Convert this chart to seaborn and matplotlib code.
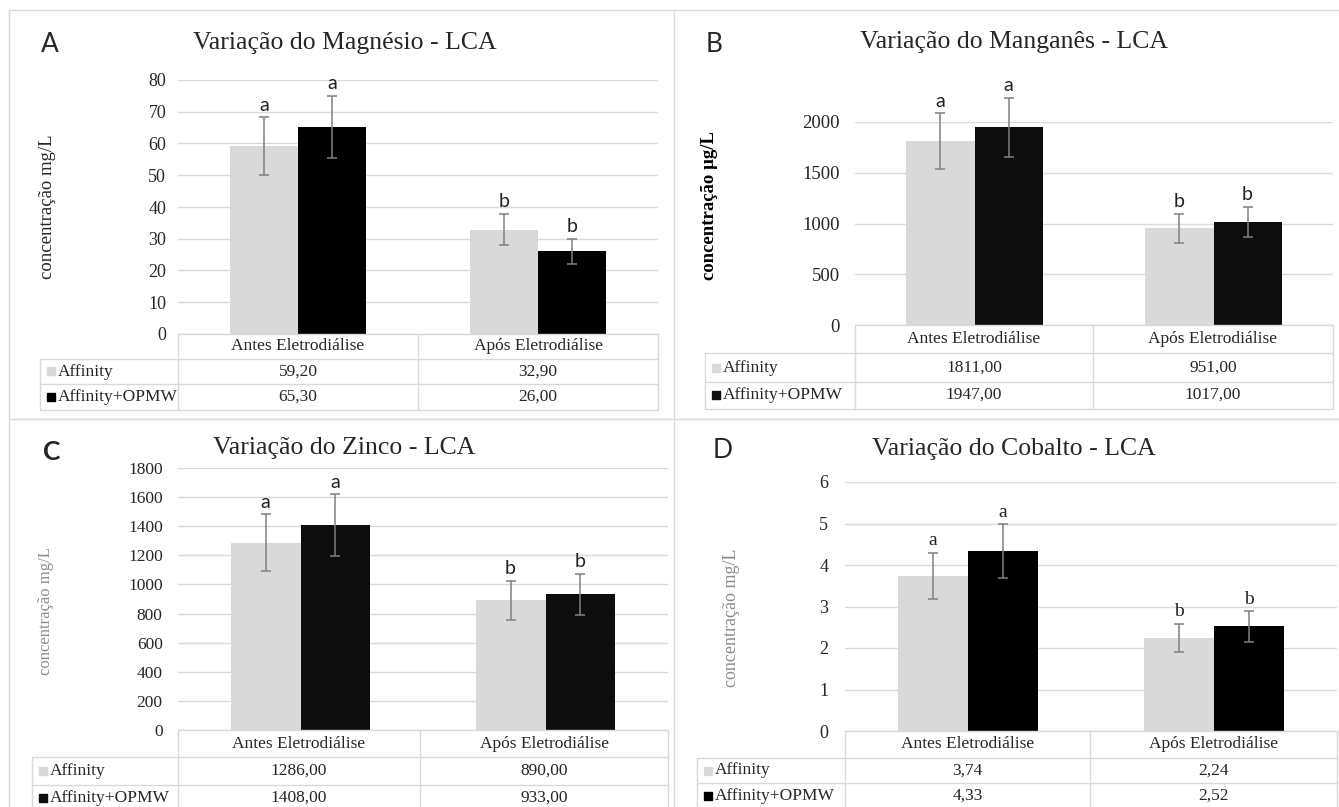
import pandas as pd
import matplotlib.pyplot as plt
import seaborn as sns
from matplotlib.lines import Line2D
from matplotlib.patches import Rectangle

# Dados
momentos = ["Antes Eletrodiálise", "Após Eletrodiálise"]
grupos = ["Affinity", "Affinity+OPMW"]

mg_affinity = [59.20, 32.90]
mg_opmw = [65.30, 26.00]
mg_err_affinity = [9.0, 5.0]
mg_err_opmw = [9.8, 4.0]

mn_affinity = [1811.00, 951.00]
mn_opmw = [1947.00, 1017.00]
mn_err_affinity = [275, 143]
mn_err_opmw = [290, 150]

zn_affinity = [1286.00, 890.00]
zn_opmw = [1408.00, 933.00]
zn_err_affinity = [195, 135]
zn_err_opmw = [213, 140]

co_affinity = [3.74, 2.24]
co_opmw = [4.33, 2.52]
co_err_affinity = [0.56, 0.34]
co_err_opmw = [0.65, 0.37]

letras_affinity = ["a", "b"]
letras_opmw = ["a", "b"]

W, H = 1339, 807
CINZA = "#d9d9d9"


def fx(x):
    return x / W


def fy(y):
    return 1 - y / H


def linha(fig, x0, y0, x1, y1, cor=CINZA, lw=1.0):
    fig.add_artist(Line2D([fx(x0), fx(x1)], [fy(y0), fy(y1)], color=cor, lw=lw))


def painel(fig, cfg):
    # eixo do gráfico em coordenadas de pixel
    left, right = cfg["c0"], cfg["c2"]
    top, bottom = cfg["ytop_px"], cfg["r0"]
    ax = fig.add_axes([fx(left), fy(bottom), fx(right) - fx(left), fy(top) - fy(bottom)])

    df = pd.DataFrame({
        "momento": momentos * 2,
        "grupo": [grupos[0]] * 2 + [grupos[1]] * 2,
        "valor": list(cfg["aff"]) + list(cfg["opmw"]),
    })
    sns.barplot(data=df, x="momento", y="valor", hue="grupo", order=momentos,
                hue_order=grupos, palette=[CINZA, cfg["escuro"]], width=0.57,
                saturation=1, errorbar=None, legend=False, linewidth=0, ax=ax)

    ax.set_xlim(-0.5, 1.5)
    ax.set_ylim(0, cfg["ymax"])
    ax.set_yticks(cfg["ticks"])
    ax.set_yticklabels([str(t) for t in cfg["ticks"]], fontsize=cfg["tick_fs"])
    ax.tick_params(axis="y", length=0, pad=cfg["pad"])
    ax.set_xticks([])
    ax.set_xlabel("")
    ax.set_ylabel("")
    for s in ax.spines.values():
        s.set_visible(False)
    ax.yaxis.grid(True, color=CINZA, lw=1)
    ax.set_axisbelow(True)
    ax.patch.set_alpha(0)

    erros = [cfg["err_aff"], cfg["err_opmw"]]
    letras = [letras_affinity, letras_opmw]
    for cont, err, let in zip(ax.containers, erros, letras):
        xs = [p.get_x() + p.get_width() / 2 for p in cont.patches]
        ys = [p.get_height() for p in cont.patches]
        ax.errorbar(xs, ys, yerr=err, fmt="none", ecolor="#808080", elinewidth=1.1,
                    capsize=3.5, capthick=1.1, clip_on=False, zorder=5)
        for x, y, e, l in zip(xs, ys, err, let):
            ax.annotate(l, (x, y + e), xytext=(0, 2.5), textcoords="offset points",
                        ha="center", va="bottom", fontsize=cfg["let_fs"],
                        family=cfg["let_font"], color="#222222", annotation_clip=False)

    # tabela de dados
    tl, c0, c1, c2 = cfg["tl"], cfg["c0"], cfg["c1"], cfg["c2"]
    r0, r1, r2, r3 = cfg["r0"], cfg["r1"], cfg["r2"], cfg["r3"]
    linha(fig, c0, r0, c2, r0)
    linha(fig, tl, r1, c2, r1)
    linha(fig, tl, r2, c2, r2)
    linha(fig, tl, r3, c2, r3)
    linha(fig, tl, r1, tl, r3)
    for xc in (c0, c1, c2):
        linha(fig, xc, r0, xc, r3)

    fs = cfg["tab_fs"]
    for i, m in enumerate(momentos):
        xm = (c0 + c1) / 2 if i == 0 else (c1 + c2) / 2
        fig.text(fx(xm), fy((r0 + r1) / 2), m, ha="center", va="center", fontsize=fs)
        fig.text(fx(xm), fy((r1 + r2) / 2), f"{cfg['aff'][i]:.2f}".replace(".", ","),
                 ha="center", va="center", fontsize=fs)
        fig.text(fx(xm), fy((r2 + min(r3, r2 + 26)) / 2), f"{cfg['opmw'][i]:.2f}".replace(".", ","),
                 ha="center", va="center", fontsize=fs)

    for yy, g, cor in [((r1 + r2) / 2, grupos[0], CINZA),
                       ((r2 + min(r3, r2 + 26)) / 2, grupos[1], cfg["escuro"])]:
        fig.add_artist(Rectangle((fx(tl + 7), fy(yy + 4)), fx(8), 8 / H, color=cor,
                                 transform=fig.transFigure))
        fig.text(fx(tl + 18), fy(yy), g, ha="left", va="center", fontsize=fs)

    # títulos e rótulos
    fig.text(fx(cfg["tit_x"]), fy(cfg["tit_y"]), cfg["titulo"], ha="center", va="center",
             fontsize=18.5)
    fig.text(fx(cfg["let_x"]), fy(cfg["let_y"]), cfg["letra"], ha="center", va="center",
             fontsize=19, family="Lato", weight=cfg.get("letra_w", "normal"))
    fig.text(fx(cfg["yl_x"]), fy(cfg["yl_y"]), cfg["ylabel"], rotation=90, ha="center",
             va="center", fontsize=cfg["yl_fs"], color=cfg["yl_cor"],
             weight=cfg.get("yl_w", "normal"))
    return ax


def main():
    sns.set_theme(style="white")
    plt.rcParams["font.family"] = ["Liberation Serif", "DejaVu Serif"]

    fig = plt.figure(figsize=(W / 100, H / 100), dpi=100)

    # bordas dos painéis
    linha(fig, 9, 10, 1339, 10)
    linha(fig, 9, 419, 1339, 419)
    linha(fig, 9, 10, 9, 807)
    linha(fig, 674, 10, 674, 807)

    paineis = [
        dict(aff=mg_affinity, opmw=mg_opmw, err_aff=mg_err_affinity, err_opmw=mg_err_opmw,
             escuro="#000000", ymax=80, ticks=list(range(0, 81, 10)), tick_fs=13, pad=8.5,
             tl=40, c0=178, c1=418, c2=658, r0=334, r1=359, r2=384, r3=410, ytop_px=80,
             let_fs=14, let_font="Lato", tab_fs=12.5,
             titulo="Variação do Magnésio - LCA", tit_x=345, tit_y=43,
             letra="A", let_x=50, let_y=45,
             ylabel="concentração mg/L", yl_x=47, yl_y=207, yl_fs=13.5, yl_cor="#262626"),
        dict(aff=mn_affinity, opmw=mn_opmw, err_aff=mn_err_affinity, err_opmw=mn_err_opmw,
             escuro="#0d0d0d", ymax=2000, ticks=list(range(0, 2001, 500)), tick_fs=13.5, pad=11,
             tl=705, c0=855, c1=1093, c2=1333, r0=325, r1=353, r2=382, r3=409, ytop_px=122,
             let_fs=14, let_font="Lato", tab_fs=12.5,
             titulo="Variação do Manganês - LCA", tit_x=1014, tit_y=42,
             letra="B", let_x=714, let_y=44,
             ylabel="concentração µg/L", yl_x=710, yl_y=205, yl_fs=13.5, yl_cor="#000000",
             yl_w="bold"),
        dict(aff=zn_affinity, opmw=zn_opmw, err_aff=zn_err_affinity, err_opmw=zn_err_opmw,
             escuro="#0d0d0d", ymax=1800, ticks=list(range(0, 1801, 200)), tick_fs=12.5, pad=11,
             tl=32, c0=178, c1=420, c2=668, r0=730, r1=757, r2=785, r3=812, ytop_px=468,
             let_fs=14, let_font="Lato", tab_fs=12.5,
             titulo="Variação do Zinco - LCA", tit_x=344, tit_y=448,
             letra="C", let_x=52, let_y=452, letra_w="bold",
             ylabel="concentração mg/L", yl_x=46, yl_y=611, yl_fs=12, yl_cor="#8c8c8c"),
        dict(aff=co_affinity, opmw=co_opmw, err_aff=co_err_affinity, err_opmw=co_err_opmw,
             escuro="#000000", ymax=6, ticks=list(range(0, 7)), tick_fs=13, pad=12,
             tl=697, c0=845, c1=1090, c2=1337, r0=731, r1=758, r2=783, r3=812, ytop_px=482,
             let_fs=14, let_font="Liberation Serif", tab_fs=12.5,
             titulo="Variação do Cobalto - LCA", tit_x=1014, tit_y=449,
             letra="D", let_x=723, let_y=450,
             ylabel="concentração mg/L", yl_x=731, yl_y=618, yl_fs=13, yl_cor="#8c8c8c"),
    ]
    for cfg in paineis:
        painel(fig, cfg)

    fig.savefig("out.png", dpi=100, facecolor="white")


if __name__ == "__main__":
    main()
